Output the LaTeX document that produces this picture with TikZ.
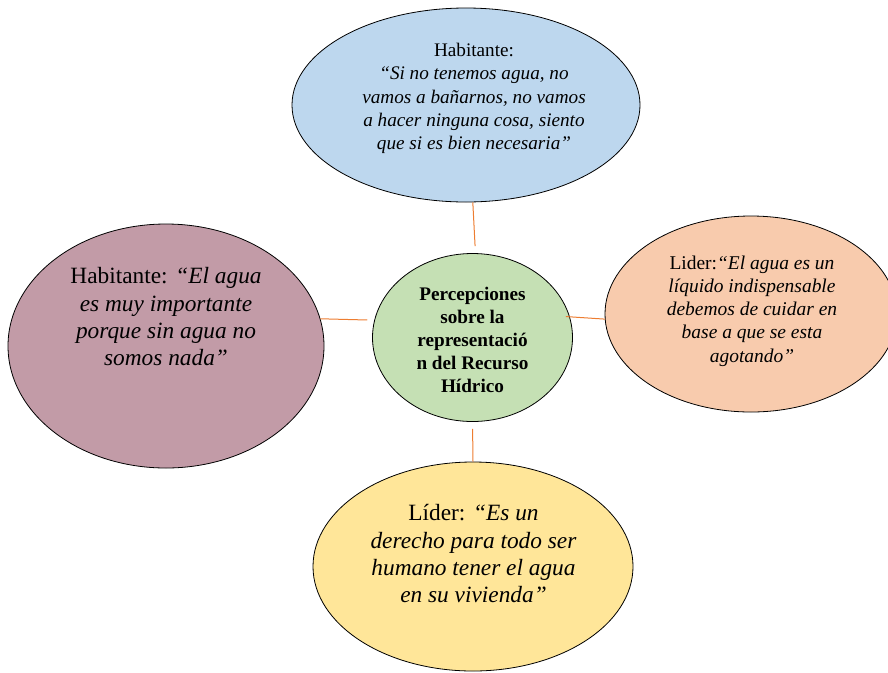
\documentclass[tikz,border=0pt]{standalone}
\usepackage{fontspec}
\setmainfont{Liberation Serif}
\usetikzlibrary{shapes.geometric}

\definecolor{habblue}{HTML}{BDD7EE}
\definecolor{hubgreen}{HTML}{C5E0B4}
\definecolor{habmauve}{HTML}{C29BA7}
\definecolor{liderpeach}{HTML}{F8CBAD}
\definecolor{lideryellow}{HTML}{FFE699}
\definecolor{linkorange}{HTML}{ED7D31}

\begin{document}
\begin{tikzpicture}[x=0.75pt,y=-0.75pt]
\useasboundingbox (0,0) rectangle (888,672);

\begin{scope}[every node/.style={ellipse,draw=black,line width=0.6pt,inner sep=0pt}]
    \node[fill=habblue,minimum width=261pt,minimum height=145.5pt] (T) at (466,105) {};
    \node[fill=hubgreen,minimum width=150pt,minimum height=126pt] (H) at (472.5,337.5) {};
    \node[fill=habmauve,minimum width=237pt,minimum height=183pt] (L) at (166,346) {};
    \node[fill=liderpeach,minimum width=219pt,minimum height=147pt] (R) at (751,314) {};
    \node[fill=lideryellow,minimum width=240pt,minimum height=156.75pt] (B) at (473,566.5) {};
\end{scope}

\begin{scope}[every node/.style={align=center,inner sep=0pt}]
    \node[font=\fontsize{14.4}{17.4}\selectfont] (Ttext) at (474,98.5)
        {Habitante:\\ \textit{“Si no tenemos agua, no}\\ \textit{vamos a bañarnos, no vamos}\\
         \textit{a hacer ninguna cosa, siento}\\ \textit{que si es bien necesaria”}};
    \node[font=\fontsize{14.4}{17.3}\selectfont\bfseries] (Htext) at (472.5,340)
        {Percepciones\\ sobre la\\ representació\\ n del Recurso\\ Hídrico};
    \node[font=\fontsize{17.5}{20.5}\selectfont] (Ltext) at (166,317)
        {Habitante: \textit{“El agua}\\ \textit{es muy importante}\\ \textit{porque sin agua no}\\ \textit{somos nada”}};
    \node[font=\fontsize{14.6}{17.4}\selectfont] (Rtext) at (752,311)
        {Lider:\textit{“El agua es un}\\ \textit{líquido indispensable}\\ \textit{debemos de cuidar en}\\
         \textit{base a que se esta}\\ \textit{agotando”}};
    \node[font=\fontsize{17.5}{20.5}\selectfont] (Btext) at (473.5,554)
        {Líder: \textit{“Es un}\\ \textit{derecho para todo ser}\\ \textit{humano tener el agua}\\ \textit{en su vivienda”}};
\end{scope}

\begin{scope}[every edge/.style={draw=linkorange,line width=0.75pt}]
    \path (T.274) edge[shorten >=5.25pt] (H.88);
    \path (L.10) edge[shorten >=5.25pt] (H.170);
    \path (H.12) edge[shorten <=-3pt] (R.182);
    \path (H.south) edge[shorten <=5.25pt] (B.north);
\end{scope}
\end{tikzpicture}
\end{document}
